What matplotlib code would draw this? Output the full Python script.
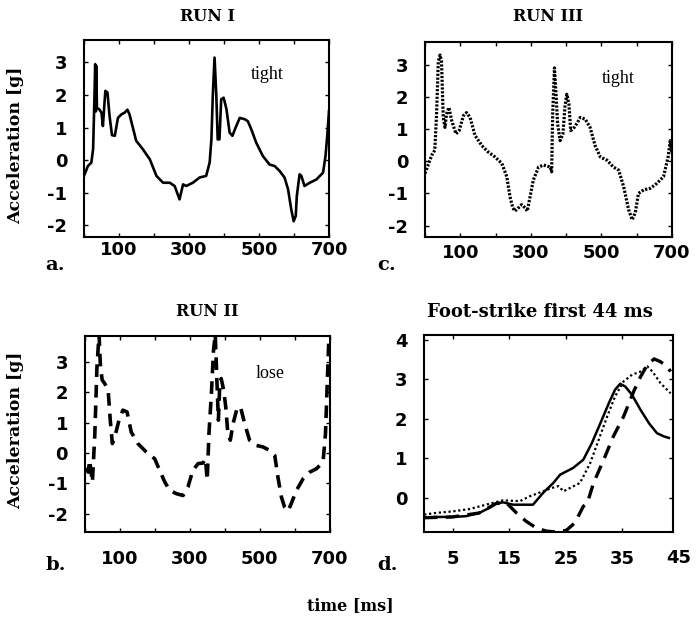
import matplotlib
matplotlib.use('Agg')
import matplotlib.pyplot as plt
import matplotlib.transforms as mtransforms

# ---- data ----
# RUN I (tight), solid
run1_t = [0, 11, 21, 26, 30, 32, 34, 35, 37, 43, 50, 54, 61, 67, 73, 80, 88, 97, 107, 116, 124, 130,
          149, 168, 188, 207, 226, 245, 259, 273, 283, 292, 311, 330, 349, 359, 364, 368, 373, 378,
          382, 387, 392, 399, 407, 416, 424, 435, 445, 459, 468, 478, 492, 511, 530, 545, 559, 573,
          583, 592, 599, 605, 608, 616, 621, 630, 645, 664, 683, 690, 695, 700]
run1_a = [-0.48, -0.18, -0.07, 0.34, 2.0, 2.95, 1.5, 2.9, 1.6, 1.57, 1.46, 1.05, 2.13, 2.08, 1.36, 0.77,
          0.75, 1.3, 1.41, 1.46, 1.55, 1.41, 0.6, 0.34, 0.03, -0.48, -0.69, -0.69, -0.79, -1.2, -0.74,
          -0.79, -0.69, -0.53, -0.48, -0.07, 0.64, 2.0, 3.15, 2.0, 0.64, 0.64, 1.87, 1.92, 1.57, 0.85,
          0.75, 1.05, 1.3, 1.26, 1.2, 0.95, 0.54, 0.13, -0.13, -0.18, -0.33, -0.53, -0.89, -1.5, -1.87,
          -1.71, -1.1, -0.43, -0.48, -0.79, -0.69, -0.59, -0.38, 0.13, 0.75, 1.51]

# RUN III (tight), dotted
run3_t = [0, 9, 19, 28, 33, 38, 43, 47, 52, 57, 61, 68, 76, 88, 97, 109, 118, 128, 142, 161, 180, 199,
          218, 232, 241, 249, 255, 265, 274, 284, 290, 298, 307, 322, 336, 355, 359, 362, 367, 371,
          376, 383, 391, 397, 402, 408, 413, 423, 432, 440, 454, 468, 482, 497, 516, 534, 549, 563,
          577, 587, 596, 605, 620, 639, 657, 676, 689, 695, 700]
run3_a = [-0.38, -0.12, 0.18, 0.34, 1.46, 3.1, 3.3, 3.1, 1.36, 1.05, 1.46, 1.67, 1.26, 0.85, 0.95, 1.41,
          1.51, 1.36, 0.8, 0.49, 0.28, 0.13, -0.07, -0.48, -1.1, -1.45, -1.55, -1.45, -1.35, -1.45, -1.55,
          -1.1, -0.59, -0.18, -0.12, -0.18, -0.33, 1.46, 2.9, 2.18, 1.16, 0.64, 0.85, 1.72, 2.08, 1.77,
          0.95, 1.05, 1.2, 1.36, 1.31, 1.05, 0.49, 0.13, 0.03, -0.18, -0.28, -0.79, -1.5, -1.82, -1.6,
          -1.0, -0.89, -0.84, -0.69, -0.48, 0.13, 0.64, 0.23]

# RUN II (lose), dashed
run2_t = [0, 10, 14, 22, 29, 35, 41, 45, 50, 57, 67, 73, 79, 86, 98, 109, 121, 133, 152, 176, 200, 214,
          229, 243, 262, 281, 295, 309, 324, 338, 345, 350, 355, 362, 368, 373, 378, 382, 386, 390,
          397, 403, 409, 416, 424, 435, 445, 457, 471, 490, 509, 528, 543, 552, 562, 571, 581, 590,
          605, 624, 643, 662, 681, 688, 693, 698]
run2_a = [-0.52, -0.63, -0.24, -0.96, 0.64, 2.84, 3.9, 2.84, 2.4, 2.29, 2.07, 1.08, 0.31, 0.53, 1.08,
          1.41, 1.35, 0.69, 0.31, 0.03, -0.19, -0.57, -0.96, -1.23, -1.34, -1.4, -1.12, -0.57, -0.35,
          -0.33, -0.19, -0.9, 0.64, 1.96, 3.38, 3.9, 2.29, 1.08, 2.29, 2.45, 2.07, 1.52, 0.64, 0.42,
          0.97, 1.46, 1.52, 0.97, 0.42, 0.25, 0.2, 0.09, -0.08, -0.79, -1.45, -1.78, -1.91, -1.67,
          -1.23, -0.85, -0.63, -0.52, -0.3, 0.64, 2.29, 3.9]

# foot-strike, first 44 ms
fs_solid_t = [0, 2, 5, 7.4, 9.7, 11.5, 12.7, 13.9, 15.7, 19.2, 21, 22.8, 24, 26.3, 28.1, 29.6, 31.1,
              32.6, 33.7, 34.6, 35.5, 36.7, 38.2, 39.7, 41.1, 42.3, 43.2]
fs_solid_a = [-0.5, -0.48, -0.48, -0.46, -0.38, -0.25, -0.14, -0.11, -0.17, -0.17, 0.13, 0.38, 0.59,
              0.76, 0.97, 1.39, 1.89, 2.4, 2.74, 2.89, 2.82, 2.61, 2.23, 1.89, 1.64, 1.56, 1.52]
fs_dot_t = [0, 2, 5, 8, 10.9, 13.9, 16.9, 18.6, 21, 22.5, 23.7, 24.6, 25.7, 27.5, 29.3, 30.8, 32.3,
            33.7, 35.2, 36.7, 38.2, 39.4, 40.3, 41.7, 43.5]
fs_dot_a = [-0.42, -0.38, -0.34, -0.28, -0.17, -0.06, -0.08, 0.04, 0.17, 0.25, 0.3, 0.17, 0.25, 0.38,
            0.88, 1.47, 2.06, 2.57, 2.95, 3.12, 3.2, 3.33, 3.2, 2.91, 2.65]
fs_dash_t = [0, 5, 9.7, 12.7, 14.5, 16.3, 18, 19.8, 21.6, 23.4, 25.1, 26.6, 28.1, 28.8, 29.9, 31.7,
             33.4, 35.2, 37, 38.2, 39.4, 40.6, 41.7, 42.9, 43.5]
fs_dash_a = [-0.5, -0.48, -0.38, -0.14, -0.12, -0.38, -0.59, -0.76, -0.84, -0.86, -0.82, -0.63, -0.21,
             -0.13, 0.38, 0.97, 1.56, 2.06, 2.7, 3.07, 3.37, 3.52, 3.45, 3.33, 3.2]

run_ticks = [0, 100, 200, 300, 400, 500, 600, 700]
run_labels = ['', '100', '', '300', '', '500', '', '700']
acc_ticks = [-2, -1, 0, 1, 2, 3]
fs_ticks = [5, 15, 25, 35]
fs_yticks = [0, 1, 2, 3, 4]

SERIF = 'DejaVu Serif'
TICKFONT = {'family': 'DejaVu Sans', 'weight': 'bold', 'size': 13}

fig = plt.figure(figsize=(7, 6.2), dpi=100)

ax_a = fig.add_axes([0.120, 0.618, 0.350, 0.318])
ax_c = fig.add_axes([0.607, 0.618, 0.353, 0.314])
ax_b = fig.add_axes([0.121, 0.142, 0.350, 0.316])
ax_d = fig.add_axes([0.606, 0.142, 0.356, 0.318])

ax_a.plot(run1_t, run1_a, '-', color='black', lw=1.9)
ax_c.plot(run3_t, run3_a, color='black', lw=2.3, linestyle=(0, (0.7, 0.5)))
ax_b.plot(run2_t, run2_a, color='black', lw=2.6, linestyle=(0, (3.5, 2.2)))

ax_d.plot(fs_solid_t, fs_solid_a, '-', color='black', lw=1.8)
ax_d.plot(fs_dot_t, fs_dot_a, color='black', lw=1.6, linestyle=(0, (1, 1.2)))
ax_d.plot(fs_dash_t, fs_dash_a, color='black', lw=2.4, linestyle=(0, (4, 2.5)))

for ax in (ax_a, ax_c):
    ax.set_xlim(0, 700)
    ax.set_ylim(-2.35, 3.7)
ax_b.set_xlim(0, 700)
ax_b.set_ylim(-2.6, 3.85)

for ax in (ax_a, ax_b, ax_c):
    ax.set_xticks(run_ticks)
    ax.set_xticklabels(run_labels)
    ax.set_yticks(acc_ticks)
    ax.set_yticklabels([str(v) for v in acc_ticks])

ax_d.set_xlim(0, 44)
ax_d.set_ylim(-0.86, 4.13)
ax_d.set_xticks(fs_ticks)
ax_d.set_xticklabels([str(v) for v in fs_ticks])
ax_d.set_yticks(fs_yticks)
ax_d.set_yticklabels([str(v) for v in fs_yticks])
# the "45" label sits just past the right edge of the box
trans = mtransforms.blended_transform_factory(ax_d.transData, ax_d.transAxes)
ax_d.text(45, -0.13, '45', transform=trans, ha='center', va='center', clip_on=False, **TICKFONT)

for ax in (ax_a, ax_b, ax_c, ax_d):
    for s in ax.spines.values():
        s.set_linewidth(1.5)
    ax.tick_params(direction='in', length=3, width=1, top=True, right=True)
    for lab in ax.get_xticklabels() + ax.get_yticklabels():
        lab.set_fontfamily(TICKFONT['family'])
        lab.set_fontweight('bold')
        lab.set_fontsize(TICKFONT['size'])

ax_a.tick_params(axis='x', pad=3)
ax_c.tick_params(axis='x', pad=5)
ax_b.tick_params(axis='x', pad=13)
ax_d.tick_params(axis='x', pad=13)
for ax in (ax_a, ax_b, ax_c, ax_d):
    ax.tick_params(axis='y', pad=12)

# in-plot notes
ax_a.text(523, 2.63, 'tight', fontsize=13, family='Liberation Serif', ha='center', va='center')
ax_c.text(547, 2.57, 'tight', fontsize=13, family='Liberation Serif', ha='center', va='center')
ax_b.text(529, 2.63, 'lose', fontsize=13, family='Liberation Serif', ha='center', va='center')

# titles
tkw = dict(family=SERIF, weight='bold', fontsize=11.5, ha='center', va='center')
fig.text(0.296, 0.974, 'RUN I', **tkw)
fig.text(0.783, 0.974, 'RUN III', **tkw)
fig.text(0.296, 0.497, 'RUN II', **tkw)
fig.text(0.771, 0.497, 'Foot-strike first 44 ms', family=SERIF, weight='bold', fontsize=13,
         ha='center', va='center')

# panel letters
lkw = dict(family=SERIF, weight='bold', fontsize=14, ha='center', va='center')
fig.text(0.079, 0.573, 'a.', **lkw)
fig.text(0.552, 0.573, 'c.', **lkw)
fig.text(0.079, 0.089, 'b.', **lkw)
fig.text(0.554, 0.089, 'd.', **lkw)

# axis labels
akw = dict(family=SERIF, weight='bold', fontsize=12.5, ha='center', va='center', rotation=90)
fig.text(0.022, 0.766, 'Acceleration [g]', **akw)
fig.text(0.022, 0.306, 'Acceleration [g]', **akw)
fig.text(0.5, 0.024, 'time [ms]', family=SERIF, weight='bold', fontsize=11.5, ha='center', va='center')

fig.savefig('out.png', dpi=100, facecolor='white')
